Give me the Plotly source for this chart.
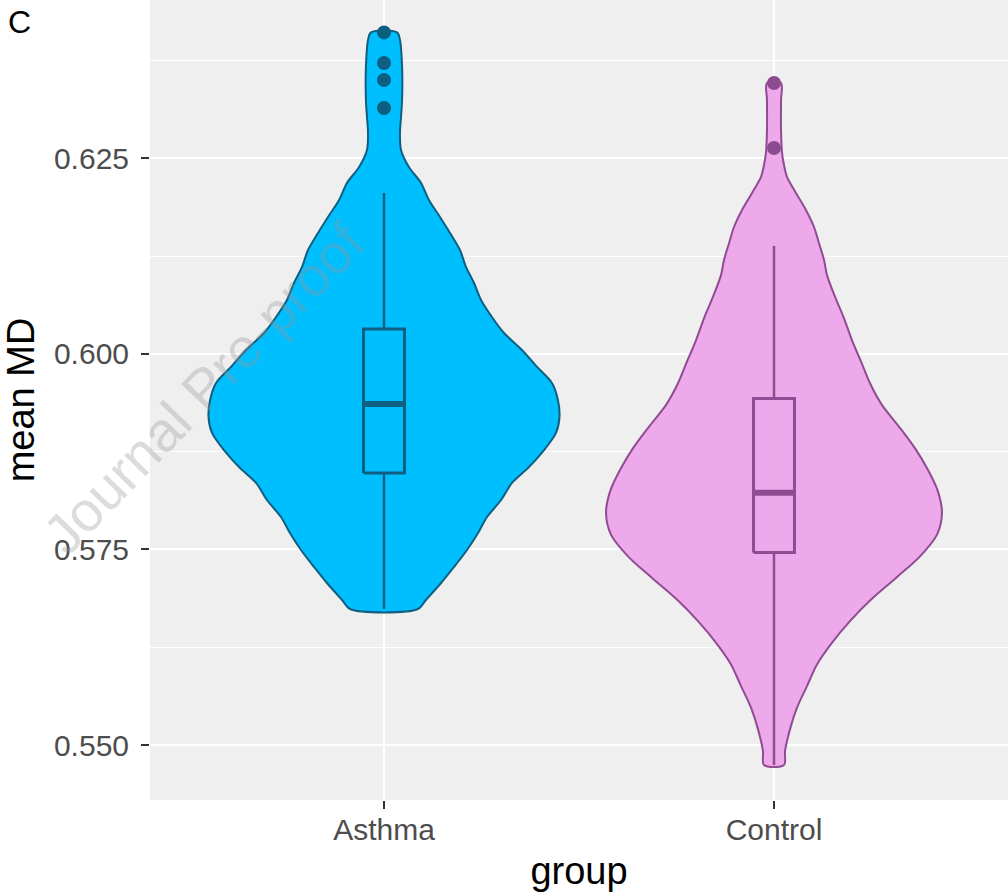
import plotly.graph_objects as go

# ---- data -------------------------------------------------------------
groups = ["Asthma", "Control"]

# violin outlines: mean MD levels and relative density (1.0 = widest violin)
asthma_levels = [0.56739, 0.56854, 0.57071, 0.57276, 0.57493, 0.57710, 0.57915,
                 0.58132, 0.58350, 0.58554, 0.58771, 0.58989, 0.59193, 0.59411,
                 0.59628, 0.59833, 0.60050, 0.60267, 0.60472, 0.60689, 0.60906,
                 0.61111, 0.61328, 0.61546, 0.61750, 0.61968, 0.62185, 0.62389,
                 0.62607, 0.62824, 0.63029, 0.63246, 0.63668, 0.64013, 0.64110]
asthma_density = [0.194, 0.239, 0.325, 0.399, 0.473, 0.536, 0.587,
                  0.667, 0.729, 0.826, 0.912, 0.980, 1.000, 0.991,
                  0.957, 0.872, 0.786, 0.684, 0.615, 0.553, 0.513,
                  0.467, 0.433, 0.376, 0.319, 0.256, 0.211, 0.142,
                  0.097, 0.091, 0.097, 0.103, 0.103, 0.091, 0.074]

control_levels = [0.54744, 0.54924, 0.55200, 0.55477, 0.55753, 0.56030, 0.56306,
                  0.56583, 0.56859, 0.57136, 0.57412, 0.57689, 0.57965, 0.58242,
                  0.58518, 0.58795, 0.59071, 0.59348, 0.59624, 0.59901, 0.60177,
                  0.60454, 0.60730, 0.61007, 0.61201, 0.61418, 0.61622, 0.61840,
                  0.62057, 0.62262, 0.62415, 0.62568, 0.62862, 0.63246, 0.63463]
control_density = [0.057, 0.063, 0.091, 0.131, 0.188, 0.245, 0.330,
                   0.433, 0.553, 0.695, 0.832, 0.929, 0.957, 0.934,
                   0.877, 0.803, 0.712, 0.615, 0.547, 0.496, 0.444,
                   0.399, 0.348, 0.302, 0.285, 0.256, 0.228, 0.182,
                   0.125, 0.074, 0.057, 0.046, 0.040, 0.040, 0.040]

# boxplot summaries: lower whisker, Q1, median, Q3, upper whisker
asthma_box = [0.56739, 0.58477, 0.59360, 0.60318, 0.62057]
control_box = [0.54744, 0.57460, 0.58225, 0.59430, 0.61380]

# outlying observations
asthma_outliers = [0.64110, 0.63719, 0.63502, 0.63144]
control_outliers = [0.63463, 0.62632]

y_ticks = [0.550, 0.575, 0.600, 0.625]
y_tick_labels = ["0.550", "0.575", "0.600", "0.625"]
y_minor = [0.5625, 0.5875, 0.6125, 0.6375]

# ---- styling ----------------------------------------------------------
FONT = "Liberation Sans, Arial, Helvetica, sans-serif"
VIOLIN_HALF = 0.45      # half of violin width (category units) at density 1
BOX_WIDTH = 0.105

styles = {
    "Asthma": dict(fill="#00BFFF", line="#0F5F80", dot="#0C5F80"),
    "Control": dict(fill="#EDA9E9", line="#8F4C93", dot="#8C4A90"),
}

series = {
    "Asthma": (asthma_levels, asthma_density, asthma_box, asthma_outliers),
    "Control": (control_levels, control_density, control_box, control_outliers),
}

fig = go.Figure()

for pos, name in enumerate(groups, start=1):
    levels, dens, box, outl = series[name]
    st = styles[name]

    # violin outline: right side going up, left side coming back down
    xs = [pos + d * VIOLIN_HALF for d in dens] + [pos - d * VIOLIN_HALF for d in reversed(dens)]
    ys = list(levels) + list(reversed(levels))
    xs.append(xs[0])
    ys.append(ys[0])
    fig.add_trace(go.Scatter(
        x=xs, y=ys, mode="lines", fill="toself", fillcolor=st["fill"],
        line=dict(color=st["line"], width=2, shape="spline", smoothing=0.9),
        hoverinfo="skip", showlegend=False,
    ))

    lo, q1, med, q3, hi = box
    left, right = pos - BOX_WIDTH / 2, pos + BOX_WIDTH / 2

    # whiskers
    fig.add_trace(go.Scatter(
        x=[pos, pos, None, pos, pos], y=[lo, q1, None, q3, hi], mode="lines",
        line=dict(color=st["line"], width=2.5),
        hoverinfo="skip", showlegend=False,
    ))

    # interquartile box
    fig.add_trace(go.Scatter(
        x=[left, right, right, left, left], y=[q1, q1, q3, q3, q1], mode="lines",
        fill="toself", fillcolor=st["fill"],
        line=dict(color=st["line"], width=3),
        hoverinfo="skip", showlegend=False,
    ))

    # heavier median bar
    fig.add_trace(go.Scatter(
        x=[left, right], y=[med, med], mode="lines",
        line=dict(color=st["line"], width=6),
        hoverinfo="skip", showlegend=False,
    ))

    # outliers
    fig.add_trace(go.Scatter(
        x=[pos] * len(outl), y=outl, mode="markers",
        marker=dict(color=st["dot"], size=14, line=dict(width=0)),
        hoverinfo="skip", showlegend=False,
    ))

fig.update_layout(
    width=1008, height=896,
    margin=dict(l=150, r=0, t=0, b=96),
    paper_bgcolor="white",
    plot_bgcolor="#EFEFEF",
    font=dict(family=FONT, color="#4D4D4D", size=30),
    annotations=[
        dict(text="C", xref="paper", yref="paper", x=-0.168, y=0.998,
             xanchor="left", yanchor="top", showarrow=False,
             font=dict(family=FONT, size=32, color="black")),
        dict(text="Journal Pre-proof", xref="paper", yref="paper", x=0.062, y=0.515,
             xanchor="center", yanchor="middle", showarrow=False, textangle=-46,
             font=dict(family=FONT, size=56, color="rgba(150,150,150,0.33)")),
    ],
)

fig.update_xaxes(
    range=[0.4, 2.6], tickmode="array", tickvals=[1, 2], ticktext=groups,
    showgrid=True, gridcolor="white", gridwidth=2.4, zeroline=False, showline=False,
    ticks="outside", ticklen=8, tickwidth=2, tickcolor="#333333",
    ticklabelstandoff=-5,
    tickfont=dict(family=FONT, size=30, color="#4D4D4D"),
    title=dict(text="group", font=dict(family=FONT, size=38, color="black"), standoff=12),
)

fig.update_yaxes(
    range=[0.54297, 0.64524], tickmode="array", tickvals=y_ticks, ticktext=y_tick_labels,
    showgrid=True, gridcolor="white", gridwidth=2.4, zeroline=False, showline=False,
    ticks="outside", ticklen=8, tickwidth=2, tickcolor="#333333",
    ticklabelstandoff=6,
    tickfont=dict(family=FONT, size=30, color="#4D4D4D"),
    minor=dict(tickvals=y_minor, showgrid=True, gridcolor="white", gridwidth=1.2, ticks=""),
    title=dict(text="mean MD", font=dict(family=FONT, size=38, color="black"), standoff=10),
)

fig.write_html("out.html")
